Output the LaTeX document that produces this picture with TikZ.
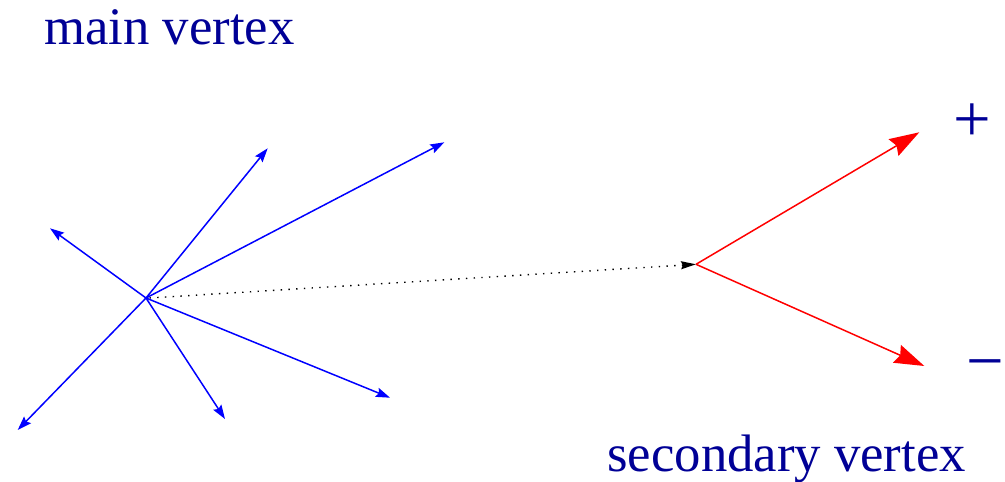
\documentclass[tikz,border=0pt]{standalone}
\usepackage{fontspec}
\setmainfont{Liberation Serif}
\usetikzlibrary{arrows.meta}
\definecolor{navylabel}{HTML}{000096}
\definecolor{trackblue}{HTML}{0000FF}
\definecolor{trackred}{HTML}{FF0000}
\tikzset{
  track/.style={
    -{Stealth[length=8pt, width=5.4pt, inset=1.2pt]}, line width=0.85pt, color=#1
  },
  track/.default=trackblue,
  daughter/.style={
    -{Stealth[length=17pt, width=11pt, inset=2pt]}, line width=0.85pt, color=trackred
  },
  flight/.style={
    -{Stealth[length=8.5pt, width=4.5pt, inset=1pt]}, dash pattern=on 0.8pt off 3.6pt,
    line width=0.8pt, color=black
  },
  vlabel/.style={
    font=\fontsize{30}{36}\selectfont, text=navylabel, inner sep=0pt
  },
  signlabel/.style={
    font=\fontsize{38}{44}\selectfont, text=navylabel, inner sep=0pt
  },
}

\begin{document}
\begin{tikzpicture}[x=0.02cm, y=0.02cm]
  \useasboundingbox (0,0) rectangle (1005,481);
  % vertices
  \coordinate (pv) at (146,183);
  \coordinate (sv) at (696,216.7);
  % tips of the primary tracks
  \coordinate (t1) at (50,252.7);
  \coordinate (t2) at (267.7,332.7);
  \coordinate (t3) at (444.3,338.7);
  \coordinate (t4) at (390,83.3);
  \coordinate (t5) at (225,62);
  \coordinate (t6) at (17.7,51);
  \coordinate (tp) at (919.3,348.7);
  \coordinate (tm) at (924.3,115);

  \foreach \t in {t1,t2,t3,t4,t5,t6}
    \draw[track] (pv) -- (\t);
  \draw[flight] ([xshift=2pt]pv) -- (sv);
  \draw[daughter] (sv) -- (tp);
  \draw[daughter] (sv) -- (tm);

  \node[vlabel, anchor=base west] (mainlbl) at (44,436) {main vertex};
  \node[vlabel, anchor=base west] (seclbl) at (607,9.3) {secondary vertex};
  \node[signlabel] (plus) at (972.7,358.3) {+};
  \node[signlabel] (minus) at (985,109.3) {−};
\end{tikzpicture}
\end{document}
